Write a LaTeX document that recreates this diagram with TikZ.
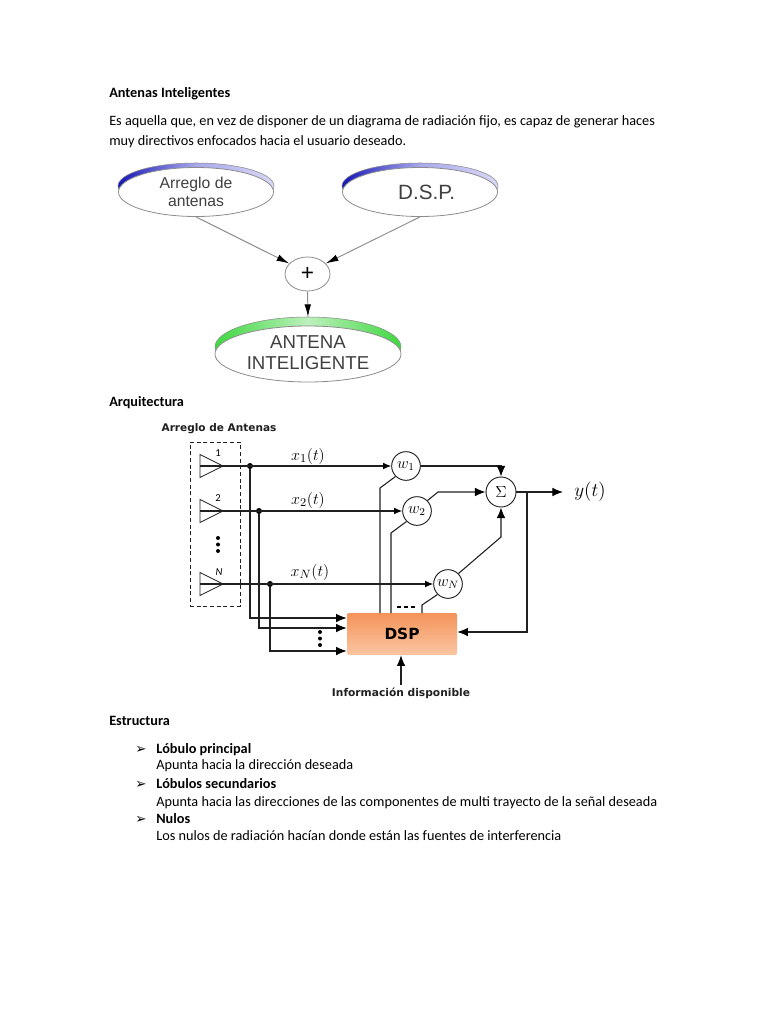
\documentclass[tikz,border=0pt]{standalone}
\usepackage{fontspec}
\setmainfont{Carlito}
\newfontfamily\arrowfont{DejaVu Sans}
\newfontfamily\diagfont{Liberation Sans}
\newfontfamily\wideb{DejaVu Sans}
\usetikzlibrary{arrows.meta,shapes.geometric,calc}
\definecolor{ink}{HTML}{202020}
\definecolor{greyline}{HTML}{8C8C8C}
\definecolor{dsptop}{HTML}{F4935A}
\definecolor{dspbot}{HTML}{FAC6A2}
\definecolor{blueL}{HTML}{1616B8}
\definecolor{blueM}{HTML}{A8A8EC}
\definecolor{blueR}{HTML}{D8D8F6}
\definecolor{greenE}{HTML}{3FD83F}
\definecolor{greenM}{HTML}{BDF0BD}
\tikzset{
  x=0.75pt,y=-0.75pt,
  txt/.style={anchor=base west,inner sep=0pt,font=\fontsize{10.7pt}{12pt}\selectfont,text=black},
  btxt/.style={txt,font=\fontsize{10.7pt}{12pt}\selectfont\bfseries},
  bullet/.style={anchor=base west,inner sep=0pt,font=\fontsize{10pt}{10pt}\arrowfont},
  oval/.style={ellipse,draw=greyline,line width=0.6pt,fill=white,inner sep=0pt,align=center,text=black!75,font=\fontsize{11.8pt}{13pt}\diagfont},
  bigoval/.style={oval,font=\fontsize{14pt}{16pt}\diagfont},
  grayarrow/.style={draw=greyline,line width=0.7pt,-{Latex[length=9.5pt,width=5pt,black]}},
  wire/.style={draw=ink,line width=0.8pt},
  arr/.style={wire,-{Latex[length=6pt,width=5pt,black]}},
  bigarr/.style={wire,-{Latex[length=8pt,width=6.5pt,black]}},
  wnode/.style={circle,draw=ink,line width=0.7pt,fill=white,minimum size=21.5pt,inner sep=0pt,font=\fontsize{12pt}{14pt}\selectfont},
  dotj/.style={circle,fill=black,minimum size=4.5pt,inner sep=0pt},
  smalld/.style={circle,fill=black,minimum size=3pt,inner sep=0pt},
  ant/.style={draw=ink,line width=0.6pt,line join=miter},
  smalllab/.style={inner sep=0pt,font=\fontsize{8pt}{9pt}\selectfont\rmfamily\itshape},
  xlab/.style={inner sep=0pt,font=\fontsize{12.2pt}{14pt}\selectfont},
  caplab/.style={inner sep=0pt,font=\fontsize{7.9pt}{9pt}\wideb\bfseries,text=ink},
}
\begin{document}
\begin{tikzpicture}
\useasboundingbox (0,0) rectangle (768,1024);
\fill[white] (0,0) rectangle (768,1024);
% --- text ---
\node[btxt] (t1) at (109,98) {Antenas Inteligentes};
\node[txt] (t2) at (109,125) {Es aquella que, en vez de disponer de un diagrama de radiación fijo, es capaz de generar haces};
\node[txt] (t3) at (109,145) {muy directivos enfocados hacia el usuario deseado.};
\node[btxt] (t4) at (109,406) {Arquitectura};
\node[btxt] (t5) at (109,725) {Estructura};
\node[bullet] (b1) at (135,753) {➢};
\node[btxt] (l1) at (156,753) {Lóbulo principal};
\node[txt] (l2) at (156,769.5) {Apunta hacia la dirección deseada};
\node[bullet] (b2) at (135,788) {➢};
\node[btxt] (l3) at (156,788) {Lóbulos secundarios};
\node[txt] (l4) at (156,806) {Apunta hacia las direcciones de las componentes de multi trayecto de la señal deseada};
\node[bullet] (b3) at (135,823) {➢};
\node[btxt] (l5) at (156,823) {Nulos};
\node[txt] (l6) at (156,840.5) {Los nulos de radiación hacían donde están las fuentes de interferencia};
% --- top diagram ---
\shade[left color=blueL,right color=blueR,middle color=blueM,draw=greyline,line width=0.4pt] (196,186) ellipse [x radius=78,y radius=23];
\shade[left color=blueL,right color=blueR,middle color=blueM,draw=greyline,line width=0.4pt] (420,186) ellipse [x radius=78,y radius=23];
\shade[left color=greenE,right color=greenE,middle color=greenM,draw=greyline,line width=0.4pt] (308,347) ellipse [x radius=93,y radius=30];
\node[oval,minimum width=116.25pt,minimum height=36.75pt] (arr) at (196,192) {Arreglo de\\antenas};
\node[oval,minimum width=116.25pt,minimum height=36.75pt,font=\fontsize{15.5pt}{17pt}\diagfont] (dsp1) at (420,192) {\hspace*{10pt}D.S.P.};
\node[oval,minimum width=33.75pt,minimum height=25.5pt,font=\fontsize{17pt}{20pt}\diagfont,text=black] (plus) at (307.5,274) {+};
\node[bigoval,minimum width=139.5pt,minimum height=42pt] (ai) at (308,354) {ANTENA\\INTELIGENTE\rule[-2pt]{0pt}{2pt}};
\draw[grayarrow] (arr.south) -- (plus.150);
\draw[grayarrow] (dsp1.south) -- (plus.30);
\draw[grayarrow] (plus.south) -- (ai.north |- 0,317);
% --- architecture ---
\node[caplab] (cap) at (219,429) {Arreglo de Antenas};
\node[draw=ink,densely dashed,line width=0.7pt,minimum width=37.5pt,minimum height=123pt,inner sep=0pt] (box) at (215,524) {};
\foreach \n/\y in {a/466,b/511,c/584}{
  \coordinate (ant\n) at (200,\y);
  \coordinate (tip\n) at (223,\y);
  \draw[ant] (200,\y-11.5) -- (tip\n) -- (200,\y+11.5) -- cycle;
}
\node[smalllab] (n1) at (218,453) {\upshape 1};
\node[smalllab] (n2) at (218,498) {\upshape 2};
\node[smalllab] (nN) at (219,572) {N};
\node[smalld] (vd1) at (218,538) {};
\node[smalld] (vd2) at (218,544.5) {};
\node[smalld] (vd3) at (218,551) {};
% DSP
\node[minimum width=82.5pt,minimum height=31.5pt,inner sep=0pt,rounded corners=1pt,top color=dsptop,bottom color=dspbot,font=\fontsize{11.5pt}{13pt}\selectfont\wideb\bfseries,text=black] (dsp) at (402,634) {DSP};
% weights and sum
\node[wnode] (w1) at (406,466) {$w_1$};
\node[wnode] (w2) at (417,511) {$w_2$};
\node[wnode] (wN) at (448,584) {$w_N$};
\node[wnode,minimum size=22.5pt] (sum) at (501,492) {$\Sigma$};
% junctions
\node[dotj] (j1) at (250,466) {};
\node[dotj] (j2) at (259,511) {};
\node[dotj] (jN) at (270,584) {};
% signal lines
\draw[arr] (anta) -- (w1.west);
\draw[arr] (antb) -- (w2.west);
\draw[arr] (antc) -- (wN.west);
\node[xlab] (x1) at (308,456) {$x_1(t)$};
\node[xlab] (x2) at (308,500) {$x_2(t)$};
\node[xlab] (xN) at (310,572) {$x_N(t)$};
% inputs to DSP
\coordinate (in1) at (dsp.west |- 0,618);
\coordinate (in2) at (dsp.west |- 0,628);
\coordinate (in3) at (dsp.west |- 0,651);
\draw[bigarr] (j1) |- (in1);
\draw[bigarr] (j2) |- (in2);
\draw[bigarr] (jN) |- (in3);
\node[smalld] (id1) at (320,632) {};
\node[smalld] (id2) at (320,638.5) {};
\node[smalld] (id3) at (320,645) {};
% DSP to weights
\draw[wire] (380,613) -- (380,488) -- (w1.225);
\draw[wire] (391,613) -- (391,533) -- (w2.225);
\draw[wire] (422,613) -- (422,605) -- (wN.225);
\foreach \x/\m in {399/a,406/b,413/c}{\node[fill=black,minimum width=3.6pt,minimum height=1.8pt,inner sep=0pt] (dash\m) at (\x,607) {};}
% weights to sum
\draw[bigarr] (w1.east) -| (sum.north);
\draw[bigarr] (w2.45) -- (438,492) -- (sum.west);
\draw[bigarr] (wN.45) -- (480,555) -- (501,537) -- (sum.south);
% output
\node[inner sep=0pt,font=\fontsize{14pt}{16pt}\selectfont] (yt) at (590,492) {$y(t)$};
\coordinate (yend) at (563,492);
\coordinate (fb) at (527,492);
\draw[bigarr] (sum.east) -- (yend);
\coordinate (fbin) at (dsp.east |- 0,632);
\draw[bigarr] (fb) |- (fbin);
% info
\node[caplab,font=\fontsize{8pt}{9pt}\wideb\bfseries] (info) at (401,693) {Información disponible};
\coordinate (infotop) at (401,685);
\draw[bigarr] (infotop) -- (dsp.south -| infotop);
\end{tikzpicture}
\end{document}
